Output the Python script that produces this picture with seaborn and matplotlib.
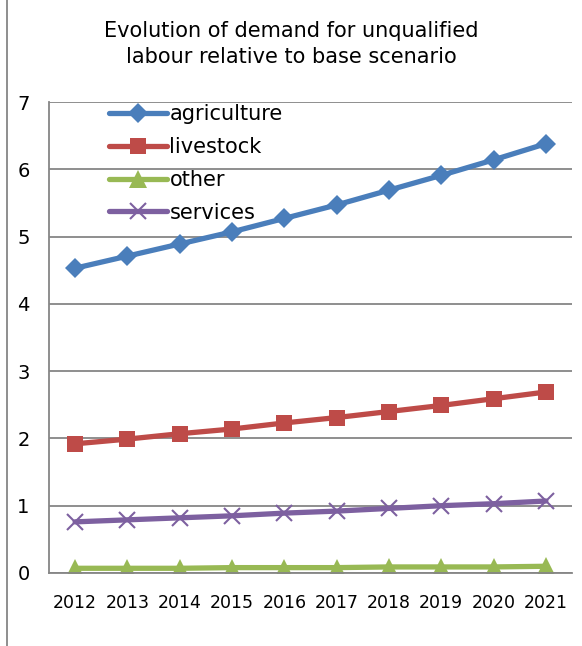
import matplotlib
matplotlib.use("Agg")
import matplotlib.pyplot as plt
import seaborn as sns
import pandas as pd
from matplotlib.lines import Line2D

years = ["2012", "2013", "2014", "2015", "2016", "2017", "2018", "2019", "2020", "2021"]
agriculture = [4.53, 4.71, 4.89, 5.07, 5.27, 5.47, 5.69, 5.91, 6.14, 6.38]
livestock = [1.92, 1.99, 2.07, 2.14, 2.23, 2.31, 2.40, 2.49, 2.59, 2.69]
other = [0.07, 0.07, 0.07, 0.08, 0.08, 0.08, 0.09, 0.09, 0.09, 0.10]
services = [0.76, 0.79, 0.82, 0.85, 0.89, 0.92, 0.96, 1.00, 1.03, 1.07]
series_names = ["agriculture", "livestock", "other", "services"]
title = "Evolution of demand for unqualified\nlabour relative to base scenario"

sns.set_theme(style="white")
plt.rcParams['font.family'] = ['DejaVu Sans']
plt.rcParams['text.color'] = 'black'
plt.rcParams['xtick.labelcolor'] = 'black'
plt.rcParams['ytick.labelcolor'] = 'black'

rows = []
for name, vals in zip(series_names, [agriculture, livestock, other, services]):
    for i, (y, v) in enumerate(zip(years, vals)):
        rows.append({"pos": i, "year": y, "value": v, "series": name})
df = pd.DataFrame(rows)

colors = {"agriculture": "#4A7EBB", "livestock": "#BE4B48", "other": "#98B954", "services": "#7D60A0"}
markers = {"agriculture": "D", "livestock": "s", "other": "^", "services": "x"}
msizes = {"agriculture": 10.5, "livestock": 11.5, "other": 12.5, "services": 11}

fig = plt.figure(figsize=(5.82, 6.46), dpi=100)
ax = fig.add_axes([49/582, 1-573/646, (572-49)/582, (573-102)/646])

for name in series_names:
    sub = df[df.series == name]
    sns.lineplot(data=sub, x="pos", y="value", ax=ax, color=colors[name],
                 linewidth=3.8, marker=markers[name], markersize=msizes[name],
                 markeredgewidth=1.5 if name == "services" else 0,
                 markeredgecolor=colors[name], label=name, legend=False)

ax.set_xlim(-0.5, 9.5)
ax.set_ylim(0, 7)
ax.set_yticks(range(0, 8))
ax.set_xticks(range(10))
ax.set_xticklabels(years)
ax.set_xticks([i - 0.5 for i in range(11)], minor=True)
ax.tick_params(axis="x", which="major", length=0, labelsize=12.5, pad=15, labelcolor="black")
ax.tick_params(axis="x", which="minor", length=6, width=1.3, color="#868686", direction="out")
ax.tick_params(axis="y", length=7, width=1.3, color="#868686", direction="out", labelsize=14, pad=7,
               labelcolor="black")
ax.set_xlabel("")
ax.set_ylabel("")
ax.grid(axis="y", color="#868686", linewidth=1.3)
ax.grid(axis="x", visible=False)
for s in ["top", "right"]:
    ax.spines[s].set_visible(False)
for s in ["left", "bottom"]:
    ax.spines[s].set_color("#868686")
    ax.spines[s].set_linewidth(1.3)

handles = [Line2D([0], [0], color=colors[n], lw=3.8, marker=markers[n], markersize=msizes[n],
                  markeredgewidth=1.5 if n == "services" else 0, markeredgecolor=colors[n])
           for n in series_names]
leg = ax.legend(handles, series_names, loc="upper left", bbox_to_anchor=(109/582, 1-104/646),
                bbox_transform=fig.transFigure, frameon=False, fontsize=15, handlelength=2.8,
                handletextpad=0.1, labelspacing=0.62, borderaxespad=0, borderpad=0)
for t in leg.get_texts():
    t.set_color("black")

fig.text(291/582, 1-44/646, title, ha="center", va="center", fontsize=15, linespacing=1.4,
         color="black")
fig.add_artist(Line2D([7/582, 7/582], [0, 1], color="#868686", lw=1.3, transform=fig.transFigure))

fig.savefig("out.png", dpi=100)
